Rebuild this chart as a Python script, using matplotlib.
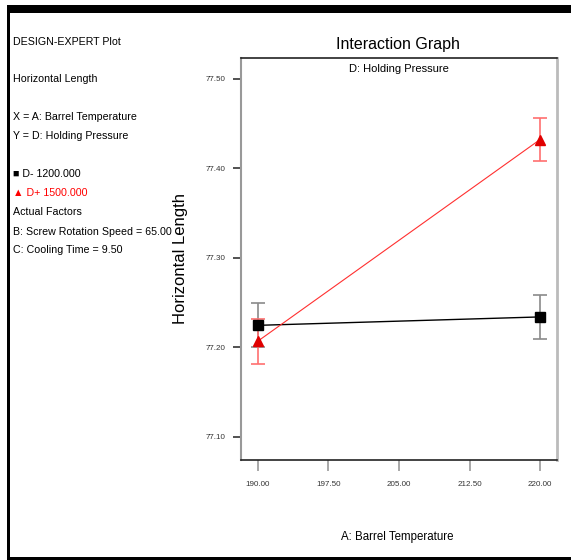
import matplotlib
matplotlib.use("Agg")
import matplotlib.pyplot as plt
from matplotlib.patches import Rectangle
from matplotlib import font_manager

names = {f.name for f in font_manager.fontManager.ttflist}
NARROW = 'Liberation Sans Narrow' if 'Liberation Sans Narrow' in names else 'Liberation Sans'
FAM = [NARROW, 'DejaVu Sans']
plt.rcParams['font.family'] = FAM
narrow = NARROW == 'Liberation Sans Narrow'
k = 1.15 if narrow else 1.0  # size factor if a narrow face exists

# ---- data ----
temps = [190.0, 220.0]
low_means = [77.2246, 77.234]
low_err = [0.0245, 0.0245]
high_means = [77.207, 77.432]
high_err = [0.025, 0.0245]
xticks = [190.0, 197.5, 205.0, 212.5, 220.0]
yticks = [77.10, 77.20, 77.30, 77.40, 77.50]

W, H = 571, 560
fig = plt.figure(figsize=(W / 100, H / 100), dpi=100)

def fx(px):
    return px / W

def fy(py):
    return 1 - py / H

ax = fig.add_axes([fx(241), fy(460), fx(557) - fx(241), fy(58) - fy(460)])

ax.errorbar(temps, low_means, yerr=low_err, fmt='none', ecolor='#8a8a8a',
            elinewidth=1.2, capsize=4.8, capthick=1.2, zorder=2)
ax.errorbar(temps, high_means, yerr=high_err, fmt='none', ecolor='#ff7070',
            elinewidth=1.2, capsize=4.8, capthick=1.2, zorder=2)
ax.plot(temps, low_means, color='black', lw=1.0, marker='s', ms=6.5,
        mfc='black', mec='black', zorder=3)
ax.plot(temps, high_means, color='#ff3030', lw=0.8, marker='^', ms=7,
        mfc='#e00000', mec='#e00000', zorder=4)

ax.set_xlim(188.2, 221.8)
ax.set_ylim(77.0743, 77.523)
ax.set_xticks(xticks)
ax.set_xticklabels([f"{t:.2f}" for t in xticks])
ax.set_yticks(yticks)
ax.set_yticklabels([f"{t:.2f}" for t in yticks])
ax.tick_params(axis='x', direction='out', length=8, width=1.2, color='#999999',
               labelsize=5.8 * k, labelcolor='#333333', pad=7)
ax.tick_params(axis='y', direction='out', length=6, width=1.2, color='#333333',
               labelsize=5.8 * k, labelcolor='#333333', pad=5)
for lab in ax.get_xticklabels() + ax.get_yticklabels():
    lab.set_fontfamily(FAM)

ax.spines['left'].set_color('#999999')
ax.spines['left'].set_linewidth(1.5)
ax.spines['right'].set_color('#bbbbbb')
ax.spines['right'].set_linewidth(2)
ax.spines['top'].set_color('#222222')
ax.spines['top'].set_linewidth(1.2)
ax.spines['bottom'].set_color('#222222')
ax.spines['bottom'].set_linewidth(1.2)

fig.text(fx(399), fy(69), "D: Holding Pressure", ha='center', va='center',
         fontsize=8 * k)
fig.text(fx(398), fy(45), "Interaction Graph", ha='center', va='center',
         fontsize=11.5 * k)
fig.text(fx(181), fy(259), "Horizontal Length", rotation=90, ha='center',
         va='center', fontsize=12, family=['Liberation Sans', 'DejaVu Sans'])
fig.text(fx(397), fy(537), "A: Barrel Temperature", ha='center', va='center',
         fontsize=8.3 * k)

side = [
    (42, "DESIGN-EXPERT Plot", 'black'),
    (79, "Horizontal Length", 'black'),
    (117, "X = A: Barrel Temperature", 'black'),
    (136, "Y = D: Holding Pressure", 'black'),
    (174, "\u25a0 D- 1200.000", 'black'),
    (193, "\u25b2 D+ 1500.000", '#ff0000'),
    (212, "Actual Factors", 'black'),
    (232, "B: Screw Rotation Speed = 65.00", 'black'),
    (250, "C: Cooling Time = 9.50", 'black'),
]
for yy, txt, col in side:
    fig.text(fx(13), fy(yy), txt, ha='left', va='center', fontsize=7.7 * k,
             color=col)

# page frame
fig.add_artist(Rectangle((fx(7), fy(13)), 1 - fx(7), fy(5) - fy(13),
                         transform=fig.transFigure, color='black', lw=0))
fig.add_artist(Rectangle((fx(7), 0), fx(10) - fx(7), fy(5),
                         transform=fig.transFigure, color='black', lw=0))
fig.add_artist(Rectangle((fx(7), 0), 1 - fx(7), fy(557),
                         transform=fig.transFigure, color='black', lw=0))

fig.savefig("out.png", dpi=100)
